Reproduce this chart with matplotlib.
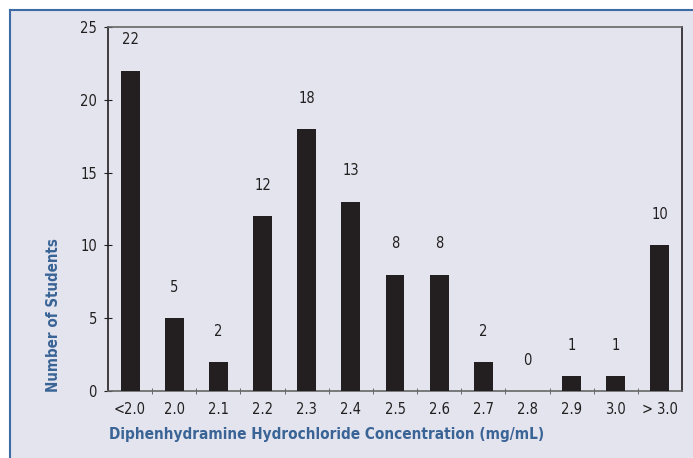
import matplotlib
matplotlib.use("Agg")
import matplotlib.pyplot as plt
from matplotlib.patches import Rectangle
from matplotlib.lines import Line2D

categories = ["<2.0", "2.0", "2.1", "2.2", "2.3", "2.4", "2.5", "2.6", "2.7", "2.8", "2.9", "3.0", "> 3.0"]
counts = [22, 5, 2, 12, 18, 13, 8, 8, 2, 0, 1, 1, 10]
y_ticks = [0, 5, 10, 15, 20, 25]

plt.rcParams['font.family'] = ['DejaVu Sans']
plt.rcParams['font.stretch'] = 'condensed'

bg = "#e3e4ee"
text_c = "#231f20"
blue = "#3a6496"
bar_c = "#231f20"
edge_blue = "#3d6ba3"

fig = plt.figure(figsize=(6.93, 4.58), dpi=100)
fig.patch.set_facecolor("white")
W, H = 693, 458
fig.add_artist(Rectangle((10 / W, 0), 1 - 10 / W, 1 - 9.5 / H, transform=fig.transFigure,
                         facecolor=bg, edgecolor="none", zorder=-5))
fig.add_artist(Line2D([10 / W, 1], [1 - 9.5 / H, 1 - 9.5 / H], transform=fig.transFigure,
                      color=edge_blue, linewidth=1.5, zorder=-4))
fig.add_artist(Line2D([10 / W, 10 / W], [0, 1 - 9.5 / H], transform=fig.transFigure,
                      color=edge_blue, linewidth=1.5, zorder=-4))

ax = fig.add_axes([108 / W, 1 - 391 / H, (682 - 108) / W, (391 - 27) / H])
ax.set_zorder(2)
ax.set_facecolor(bg)
x = list(range(len(categories)))
ax.bar(x, counts, width=0.43, color=bar_c, zorder=3)
for xi, v in zip(x, counts):
    ax.text(xi, v + 1.6, str(v), ha="center", va="bottom", fontsize=10.5,
            color=text_c, fontstretch="condensed")

ax.set_xlim(-0.5, len(categories) - 0.5)
ax.set_ylim(0, 25)
ax.set_yticks(y_ticks)
ax.set_yticklabels([str(t) for t in y_ticks], fontsize=10.5, color=text_c, fontstretch="condensed")
ax.set_xticks(x)
ax.set_xticklabels(categories, fontsize=10.5, color=text_c, fontstretch="condensed")
ax.tick_params(axis="x", length=0, pad=8)
ax.set_xticks([i + 0.5 for i in x[:-1]], minor=True)
ax.tick_params(axis="x", which="minor", direction="inout", length=5, color="#555555")
ax.tick_params(axis="y", direction="inout", length=6, color=text_c, pad=5)

for s in ["left", "right"]:
    ax.spines[s].set_color("#231f20")
    ax.spines[s].set_linewidth(1.2)
ax.spines["top"].set_color("#666666")
ax.spines["top"].set_linewidth(1.2)
ax.spines["bottom"].set_color("#666666")
ax.spines["bottom"].set_linewidth(1.2)

ax.set_ylabel("Number of Students", fontsize=10.8, fontweight="bold", color=blue,
              fontstretch="condensed")
ax.yaxis.set_label_coords((61 - 108) / (682 - 108), (391 - 315) / (391 - 27))
ax.set_xlabel("Diphenhydramine Hydrochloride Concentration (mg/mL)", fontsize=11,
              fontweight="bold", color=blue, fontstretch="condensed")
ax.xaxis.set_label_coords((327 - 108) / (682 - 108), -0.1)

fig.savefig("out.png", dpi=100)
